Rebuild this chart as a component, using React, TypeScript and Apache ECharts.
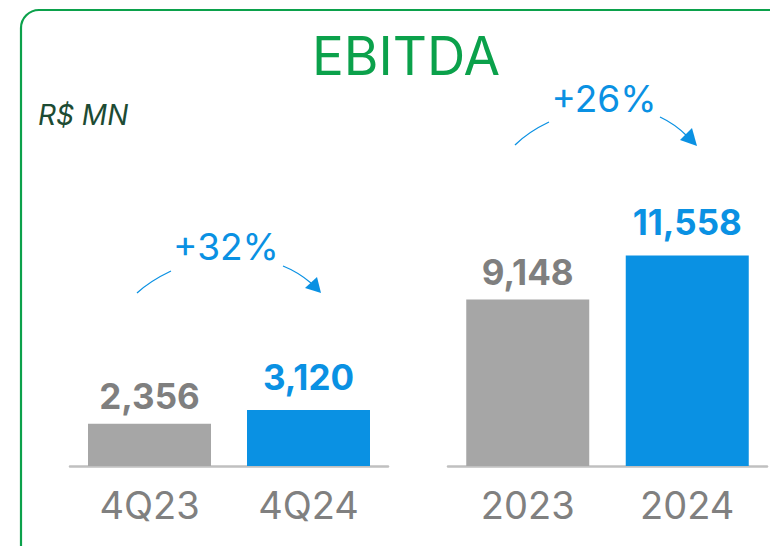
import React, { useEffect, useRef } from "react";
import * as echarts from "echarts";

const quarterCategories = ["4Q23", "4Q24"];
const quarterValues = [2356, 3120];
const yearCategories = ["2023", "2024"];
const yearValues = [9148, 11558];
const quarterGrowth = "+32%";
const yearGrowth = "+26%";
const titleText = "EBITDA";
const unitText = "R$ MN";

const GRAY = "#a6a6a6";
const BLUE = "#0a91e3";
const GRAY_TXT = "#7f7f7f";
const GREEN = "#0ba14b";
const FONT = "Inter, Lato, sans-serif";

function makeData(values: number[]) {
  return values.map((v, i) => ({
    value: v,
    itemStyle: { color: i === 0 ? GRAY : BLUE },
    label: { color: i === 0 ? GRAY_TXT : BLUE, distance: i === 0 ? 10 : 16 },
  }));
}

export default function App() {
  const ref = useRef<HTMLDivElement>(null);
  useEffect(() => {
    if (!ref.current) return;
    const chart = echarts.init(ref.current, null, { renderer: "svg" });
    const axisCommon = {
      type: "category" as const,
      axisTick: { show: false },
      axisLine: { show: true, lineStyle: { color: "#c0c0c0", width: 2.5 } },
      axisLabel: { fontSize: 38, color: "#808080", margin: 20, fontFamily: FONT, fontWeight: 400 },
    };
    const yCommon = {
      type: "value" as const,
      min: 0,
      show: false,
      splitLine: { show: false },
    };
    const labelCommon = {
      show: true,
      position: "top" as const,
      fontSize: 35,
      fontWeight: "bold" as const,
      fontFamily: FONT,
      formatter: (p: any) => Number(p.value).toLocaleString("en-US"),
    };
    const arrowColor = BLUE;
    const lineStyle = { stroke: arrowColor, lineWidth: 1.3, fill: null as any };
    chart.setOption({
      animation: false,
      grid: [
        { left: 70, width: 318, top: 100, bottom: 80 },
        { left: 448, width: 319, top: 100, bottom: 80 },
      ],
      xAxis: [
        { ...axisCommon, gridIndex: 0, data: quarterCategories },
        { ...axisCommon, gridIndex: 1, data: yearCategories },
      ],
      yAxis: [
        { ...yCommon, gridIndex: 0, max: 20400 },
        { ...yCommon, gridIndex: 1, max: 20100 },
      ],
      series: [
        {
          type: "bar",
          xAxisIndex: 0,
          yAxisIndex: 0,
          barWidth: 123,
          data: makeData(quarterValues),
          label: labelCommon,
        },
        {
          type: "bar",
          xAxisIndex: 1,
          yAxisIndex: 1,
          barWidth: 123,
          data: makeData(yearValues),
          label: labelCommon,
        },
      ],
      graphic: [
        {
          type: "rect",
          shape: { x: 21, y: 10, width: 800, height: 600, r: 18 },
          style: { fill: null, stroke: GREEN, lineWidth: 2.2 },
          silent: true,
        },
        {
          type: "text",
          x: 406,
          y: 56,
          style: {
            text: titleText,
            fill: GREEN,
            fontSize: 53,
            fontWeight: 400,
            fontFamily: FONT,
            align: "center",
            verticalAlign: "middle",
          },
        },
        {
          type: "text",
          x: 38,
          y: 115,
          style: {
            text: unitText,
            fill: "#1d4b33",
            fontSize: 28,
            fontStyle: "italic",
            fontFamily: FONT,
            align: "left",
            verticalAlign: "middle",
          },
        },
        {
          type: "text",
          x: 226,
          y: 246,
          style: {
            text: quarterGrowth,
            fill: BLUE,
            fontSize: 37,
            fontWeight: 400,
            fontFamily: FONT,
            align: "center",
            verticalAlign: "middle",
          },
        },
        {
          type: "text",
          x: 604,
          y: 98,
          style: {
            text: yearGrowth,
            fill: BLUE,
            fontSize: 37,
            fontWeight: 400,
            fontFamily: FONT,
            align: "center",
            verticalAlign: "middle",
          },
        },
        {
          type: "bezierCurve",
          shape: { x1: 137, y1: 293, x2: 171, y2: 271, cpx1: 150, cpy1: 281 },
          style: lineStyle,
        },
        {
          type: "bezierCurve",
          shape: { x1: 283, y1: 266, x2: 311, y2: 283, cpx1: 298, cpy1: 272 },
          style: lineStyle,
        },
        {
          type: "polygon",
          shape: { points: [[305, 288], [317, 277], [321, 293]] },
          style: { fill: arrowColor },
        },
        {
          type: "bezierCurve",
          shape: { x1: 515, y1: 145, x2: 549, y2: 122, cpx1: 528, cpy1: 132 },
          style: lineStyle,
        },
        {
          type: "bezierCurve",
          shape: { x1: 660, y1: 117, x2: 687, y2: 136, cpx1: 675, cpy1: 124 },
          style: lineStyle,
        },
        {
          type: "polygon",
          shape: { points: [[680, 140], [692, 128], [697, 146]] },
          style: { fill: arrowColor },
        },
      ],
    });
    return () => chart.dispose();
  }, []);
  return (
    <div
      ref={ref}
      style={{ position: "fixed", left: 0, top: 0, width: 770, height: 546, background: "#fff" }}
    />
  );
}
